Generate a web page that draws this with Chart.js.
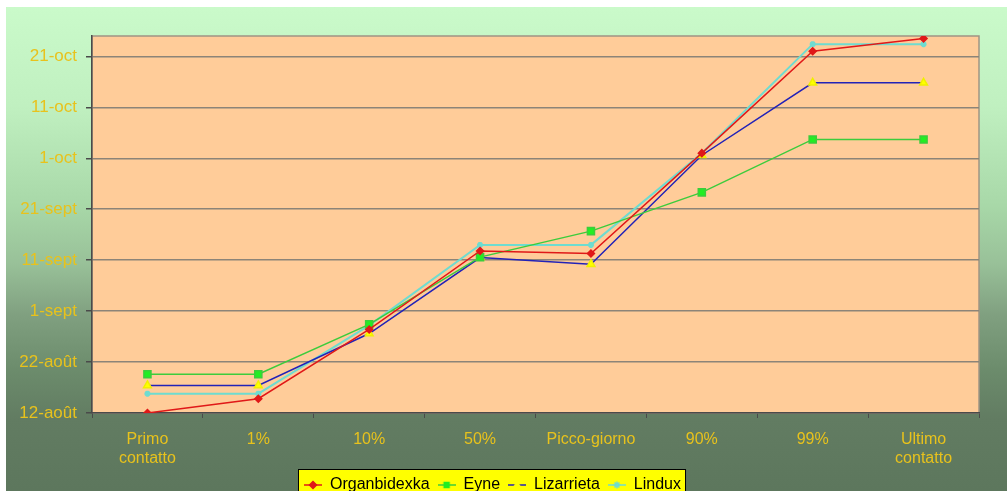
<!DOCTYPE html>
<html>
<head>
<meta charset="utf-8">
<script src="https://cdn.jsdelivr.net/npm/chart.js@4.4.0/dist/chart.umd.min.js"></script>
<style>
  html, body { margin: 0; padding: 0; background: #fff; overflow: hidden; }
  #wrap { position: absolute; left: 6px; top: 7px; width: 1001px; height: 496px; }
</style>
</head>
<body>
<div id="wrap"><canvas id="chart"></canvas></div>
<script>
// migration stages per site, values are days counted from 12 August
const categories = [['Primo', 'contatto'], '1%', '10%', '50%', 'Picco-giorno', '90%', '99%', ['Ultimo', 'contatto']];
const dateLabels = ['12-août', '22-août', '1-sept', '11-sept', '21-sept', '1-oct', '11-oct', '21-oct'];

const organbidexka = [0, 2.8, 16.4, 31.8, 31.3, 51, 71, 73.5];
const eyne = [7.6, 7.6, 17.4, 30.6, 35.7, 43.3, 53.7, 53.7];
const lizarrieta = [5.4, 5.4, 15.6, 30.5, 29.2, 50.6, 64.8, 64.8];
const lindux = [3.8, 3.8, 17.2, 33, 33, 51, 72.4, 72.4];

const TICK_YELLOW = '#e8c21c';
const FONT = "'Liberation Sans', Arial, sans-serif";

// small line+marker sample for the legend
function legendSample(lineColor, markerColor, style) {
    const c = document.createElement('canvas');
    c.width = 18;
    c.height = 10;
    const g = c.getContext('2d');
    g.strokeStyle = lineColor;
    g.lineWidth = 1.5;
    g.beginPath();
    g.moveTo(0, 5);
    g.lineTo(18, 5);
    g.stroke();
    g.fillStyle = markerColor;
    g.strokeStyle = markerColor;
    Chart.helpers.drawPoint(g, { pointStyle: style, radius: 3.5, borderWidth: 1 }, 9, 5);
    return c;
}

const samples = [
    legendSample('#e01818', '#e01818', 'rectRot'),
    legendSample('#3ccc3c', '#22ee22', 'rect'),
    legendSample('#2222b8', '#ffff00', 'triangle'),
    legendSample('#6edcd0', '#6edcd0', 'star')
];

const backdrop = {
    id: 'backdrop',
    beforeDraw(chart) {
        const { ctx, width, height, chartArea: a, legend } = chart;
        ctx.save();
        const g = ctx.createLinearGradient(0, 0, 0, height);
        g.addColorStop(0, '#cafaca');
        g.addColorStop(0.2, '#c0f0c0');
        g.addColorStop(0.4, '#a8d8a8');
        g.addColorStop(0.52, '#98c098');
        g.addColorStop(0.62, '#80a080');
        g.addColorStop(0.73, '#6c8c6c');
        g.addColorStop(0.83, '#627c62');
        g.addColorStop(1, '#5c765c');
        ctx.fillStyle = g;
        ctx.fillRect(0, 0, width, height);

        ctx.fillStyle = '#ffcc99';
        ctx.fillRect(a.left, a.top, a.right - a.left, a.bottom - a.top);
        ctx.strokeStyle = '#a09484';
        ctx.lineWidth = 1.5;
        ctx.strokeRect(a.left, a.top, a.right - a.left, a.bottom - a.top);

        const hb = legend.legendHitBoxes;
        if (hb && hb.length) {
            const last = hb[hb.length - 1];
            const x0 = hb[0].left - 6;
            const x1 = last.left + last.width + 4;
            const y0 = legend.top;
            ctx.fillStyle = '#ffff00';
            ctx.fillRect(x0, y0, x1 - x0, height - y0 + 10);
            ctx.strokeStyle = '#000';
            ctx.lineWidth = 1;
            ctx.strokeRect(x0 + 0.5, y0 + 0.5, x1 - x0, height - y0 + 10);
        }
        ctx.restore();
    }
};

new Chart(document.getElementById('chart'), {
    type: 'line',
    data: {
        labels: categories,
        datasets: [
            {
                label: 'Organbidexka',
                data: organbidexka,
                borderColor: '#e01818',
                backgroundColor: '#e01818',
                borderWidth: 1.5,
                pointStyle: 'rectRot',
                pointRadius: 3.5
            },
            {
                label: 'Eyne',
                data: eyne,
                borderColor: '#3ccc3c',
                backgroundColor: '#22ee22',
                borderWidth: 1.5,
                pointStyle: 'rect',
                pointRadius: 5
            },
            {
                label: 'Lizarrieta',
                data: lizarrieta,
                borderColor: '#2222b8',
                backgroundColor: '#ffff00',
                pointBorderColor: '#f0f000',
                borderWidth: 1.5,
                pointStyle: 'triangle',
                pointRadius: 4.5
            },
            {
                label: 'Lindux',
                data: lindux,
                borderColor: '#6edcd0',
                backgroundColor: '#6edcd0',
                borderWidth: 2,
                pointStyle: 'star',
                pointRadius: 3
            }
        ]
    },
    options: {
        responsive: true,
        maintainAspectRatio: false,
        animation: false,
        layout: { padding: { left: 0, right: 28, top: 29, bottom: 0 } },
        plugins: {
            tooltip: { enabled: false },
            legend: {
                position: 'bottom',
                labels: {
                    color: '#000',
                    font: { family: FONT, size: 16 },
                    usePointStyle: true,
                    pointStyleWidth: 18,
                    padding: 8,
                    generateLabels(chart) {
                        return chart.data.datasets.map((ds, i) => ({
                            text: ds.label,
                            pointStyle: samples[i],
                            fontColor: '#000',
                            datasetIndex: i,
                            hidden: false,
                            lineWidth: 0
                        }));
                    }
                }
            }
        },
        scales: {
            x: {
                offset: true,
                afterFit(scale) { scale.height = 56; },
                grid: {
                    offset: true,
                    drawOnChartArea: false,
                    tickLength: 5,
                    tickColor: '#4a4a4a'
                },
                border: { color: '#4a4a4a', width: 1.5 },
                ticks: {
                    color: TICK_YELLOW,
                    padding: 12,
                    maxRotation: 0,
                    autoSkip: false,
                    font: { family: FONT, size: 16 }
                }
            },
            y: {
                min: 0,
                max: 74,
                afterFit(scale) { scale.width = 86; },
                grid: {
                    color: '#8c8478',
                    lineWidth: 1.5,
                    tickLength: 6,
                    tickColor: '#4a4a4a'
                },
                border: { color: '#4a4a4a', width: 1.5 },
                ticks: {
                    stepSize: 10,
                    includeBounds: false,
                    color: TICK_YELLOW,
                    padding: 9,
                    font: { family: FONT, size: 17 },
                    callback: (v) => dateLabels[v / 10] ?? ''
                }
            }
        }
    },
    plugins: [backdrop]
});
</script>
</body>
</html>
